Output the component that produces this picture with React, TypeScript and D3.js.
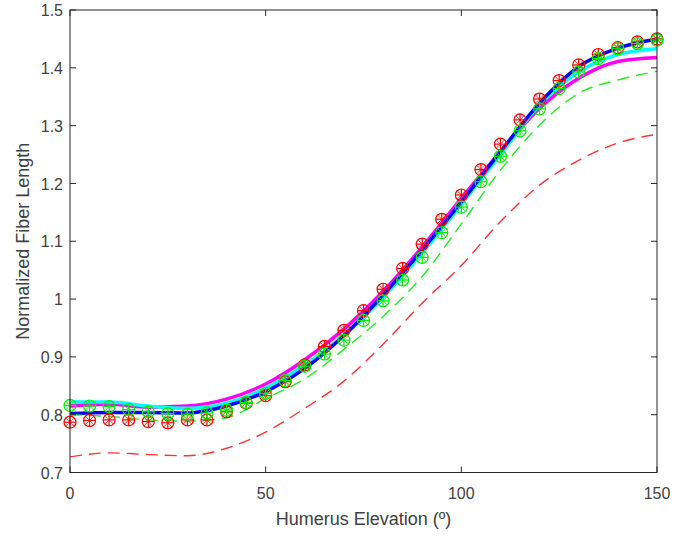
import * as d3 from "d3";

// humerus elevation angles (deg)
const markerAngles = d3.range(0, 151, 5);
const lineAngles = d3.range(0, 151, 10);

// marker series (every 5 deg)
const redMarkers = [
  0.787, 0.790, 0.791, 0.791, 0.788, 0.786, 0.791, 0.791, 0.805, 0.820,
  0.833, 0.857, 0.886, 0.918, 0.946, 0.980, 1.017, 1.053, 1.095, 1.138,
  1.180, 1.224, 1.268, 1.310, 1.346, 1.378, 1.405, 1.423, 1.435, 1.445, 1.450,
];
const greenMarkers = [
  0.816, 0.815, 0.814, 0.809, 0.805, 0.802, 0.801, 0.803, 0.808, 0.821,
  0.837, 0.859, 0.884, 0.905, 0.929, 0.963, 0.997, 1.033, 1.072, 1.115,
  1.159, 1.203, 1.247, 1.291, 1.329, 1.364, 1.393, 1.416, 1.433, 1.442, 1.448,
];

// line series (every 10 deg)
const blueLine = [0.802, 0.804, 0.804, 0.803, 0.815, 0.840, 0.880, 0.937, 1.007, 1.085, 1.168, 1.255, 1.339, 1.402, 1.434, 1.450];
const cyanLine = [0.822, 0.822, 0.815, 0.811, 0.820, 0.846, 0.886, 0.937, 1.003, 1.080, 1.164, 1.250, 1.336, 1.393, 1.423, 1.433];
const magentaLine = [0.815, 0.818, 0.813, 0.815, 0.827, 0.853, 0.895, 0.948, 1.013, 1.090, 1.174, 1.255, 1.330, 1.382, 1.411, 1.418];
const greenDashed = [0.800, 0.797, 0.791, 0.789, 0.795, 0.828, 0.862, 0.913, 0.970, 1.039, 1.130, 1.223, 1.301, 1.356, 1.379, 1.394];
const redDashed = [0.727, 0.734, 0.731, 0.729, 0.742, 0.770, 0.811, 0.858, 0.922, 0.993, 1.058, 1.134, 1.197, 1.240, 1.270, 1.285];

const xTicks = [0, 50, 100, 150];
const yTicks = [0.7, 0.8, 0.9, 1, 1.1, 1.2, 1.3, 1.4, 1.5];

const W = 674, H = 537;
const left = 70, right = 657, top = 10, bottom = 472.5;
const axisColor = "#262626";
const textColor = "#404040";
const font = "'Liberation Sans', Arial, sans-serif";

function Marker({ cx, cy, color }) {
  const r = 6;
  const d = r * 0.7071;
  return (
    <g stroke={color} strokeWidth={1.2} fill="none">
      <circle cx={cx} cy={cy} r={r} />
      <line x1={cx - r} x2={cx + r} y1={cy} y2={cy} />
      <line x1={cx} x2={cx} y1={cy - r} y2={cy + r} />
      <line x1={cx - d} x2={cx + d} y1={cy - d} y2={cy + d} strokeWidth={0.8} />
      <line x1={cx - d} x2={cx + d} y1={cy + d} y2={cy - d} strokeWidth={0.8} />
    </g>
  );
}

export default function App() {
  const x = d3.scaleLinear().domain([0, 150]).range([left, right]);
  const y = d3.scaleLinear().domain([0.7, 1.5]).range([bottom, top]);

  const line = d3
    .line<number>()
    .x((_, i) => x(lineAngles[i]))
    .y((v) => y(v))
    .curve(d3.curveMonotoneX);

  const thick = [
    { vals: magentaLine, color: "#ff00ff" },
    { vals: cyanLine, color: "#00ffff" },
    { vals: blueLine, color: "#0000ff" },
  ];
  const dashed = [
    { vals: greenDashed, color: "#22ee22" },
    { vals: redDashed, color: "#ff3333" },
  ];

  return (
    <svg width={W} height={H} style={{ position: "absolute", left: 0, top: 0, background: "#fff" }}>
      <rect x={0} y={0} width={W} height={H} fill="#fff" />

      {thick.map((s, i) => (
        <path key={"t" + i} d={line(s.vals)} fill="none" stroke={s.color} strokeWidth={3.5} />
      ))}
      {dashed.map((s, i) => (
        <path key={"d" + i} d={line(s.vals)} fill="none" stroke={s.color} strokeWidth={1.4} strokeDasharray="12,7" />
      ))}

      {redMarkers.map((v, i) => (
        <Marker key={"r" + i} cx={x(markerAngles[i])} cy={y(v)} color="#ff0000" />
      ))}
      {greenMarkers.map((v, i) => (
        <Marker key={"g" + i} cx={x(markerAngles[i])} cy={y(v)} color="#00ee00" />
      ))}

      {/* axes box */}
      <rect x={left} y={top} width={right - left} height={bottom - top} fill="none" stroke={axisColor} strokeWidth={1} />
      {xTicks.map((t) => (
        <g key={"xt" + t}>
          <line x1={x(t)} x2={x(t)} y1={bottom} y2={bottom - 6} stroke={axisColor} />
          <line x1={x(t)} x2={x(t)} y1={top} y2={top + 6} stroke={axisColor} />
          <text x={x(t)} y={499} textAnchor="middle" fontFamily={font} fontSize={16} fill={textColor}>
            {t}
          </text>
        </g>
      ))}
      {yTicks.map((t) => (
        <g key={"yt" + t}>
          <line x1={left} x2={left + 6} y1={y(t)} y2={y(t)} stroke={axisColor} />
          <line x1={right} x2={right - 6} y1={y(t)} y2={y(t)} stroke={axisColor} />
          <text x={63} y={y(t)} dy="0.38em" textAnchor="end" fontFamily={font} fontSize={16} fill={textColor}>
            {d3.format("~g")(t)}
          </text>
        </g>
      ))}

      <text x={(left + right) / 2} y={525} textAnchor="middle" fontFamily={font} fontSize={18} fill={textColor}>
        Humerus Elevation (º)
      </text>
      <text
        transform={`translate(29, ${(top + bottom) / 2}) rotate(-90)`}
        textAnchor="middle"
        fontFamily={font}
        fontSize={18}
        fill={textColor}
      >
        Normalized Fiber Length
      </text>
    </svg>
  );
}
